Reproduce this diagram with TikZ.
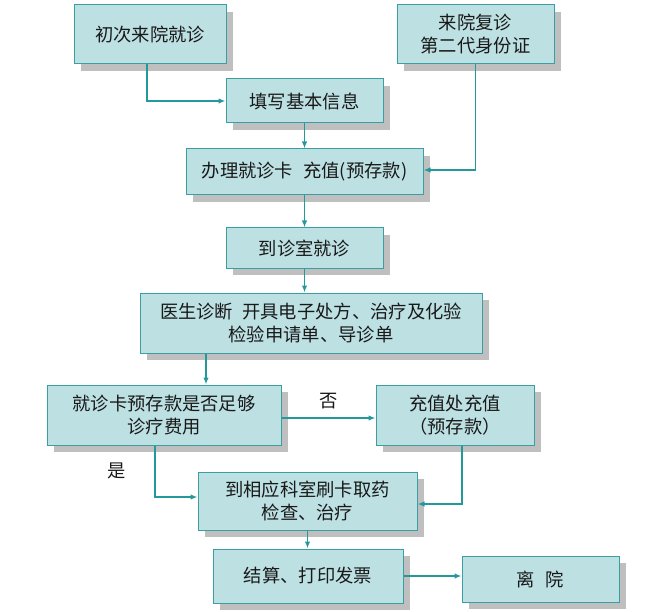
\documentclass[tikz,border=0pt]{standalone}
\usepackage{fontspec}
\setmainfont{Noto Sans CJK SC}
\usepackage{tikz}
\usetikzlibrary{arrows.meta,shadows}

\definecolor{boxfill}{HTML}{BDE0E3}
\definecolor{boxline}{HTML}{3A9EA2}
\definecolor{arrline}{HTML}{24999B}

\tikzset{
  box/.style={draw=boxline, line width=1pt, fill=boxfill, align=center,
    inner sep=0pt, text=black!90,
    font=\fontsize{18.3}{23}\selectfont,
    drop shadow={shadow xshift=7pt, shadow yshift=-7pt, fill=black!25, opacity=1}},
  arr/.style={draw=arrline, line width=1.8pt, -{Latex[length=7pt,width=5.5pt]}},
  lbl/.style={font=\fontsize{18.3}{23}\selectfont, text=black!90}
}

\begin{document}
\begin{tikzpicture}[x=1pt,y=-1pt]
    \useasboundingbox (0,0) rectangle (655,612);

    \node[box, minimum width=152pt, minimum height=59pt] (B1) at (150, 34.5) {初次来院就诊};
    \node[box, minimum width=157pt, minimum height=59pt] (B2) at (475.5, 34.5) {来院复诊\\第二代身份证};
    \node[box, minimum width=157pt, minimum height=44pt] (B3) at (304.5, 101) {填写基本信息};
    \node[box, minimum width=237pt, minimum height=46pt] (B4) at (304.5, 172) {办理就诊卡\hspace{0.55em}充值(预存款)};
    \node[box, minimum width=157pt, minimum height=40pt] (B5) at (304.5, 248) {到诊室就诊};
    \node[box, minimum width=342pt, minimum height=60pt] (B6) at (311, 323) {医生诊断\hspace{0.5em}开具电子处方、治疗及化验\\检验申请单、导诊单};
    \node[box, minimum width=234pt, minimum height=60pt] (B7) at (164, 415) {就诊卡预存款是否足够\\诊疗费用};
    \node[box, minimum width=158pt, minimum height=60pt] (B8) at (455, 415) {充值处充值\\（预存款）};
    \node[box, minimum width=219pt, minimum height=58pt] (B9) at (307.5, 501) {到相应科室刷卡取药\\检查、治疗};
    \node[box, minimum width=190pt, minimum height=54pt] (B10) at (308, 576) {结算、打印发票};
    \node[box, minimum width=157pt, minimum height=46pt] (B11) at (540.5, 579) {离\hspace{0.6em}院};

    \draw[arr] ([xshift=-3pt]B1.south) |- (B3.west);
    \draw[arr] (B2.south) |- ([yshift=2pt]B4.east);
    \draw[arr] (B3.south) -- (B4.north);
    \draw[arr] (B4.south) -- (B5.north);
    \draw[arr] (B5.south) -- (B5.south |- B6.north);
    \draw[arr] ([xshift=42pt]B7.north |- B6.south) -- ([xshift=42pt]B7.north);
    \draw[arr] ([yshift=-3pt]B7.east) -- node[lbl, above=5pt] {否} ([yshift=-3pt]B8.west);
    \draw[arr] ([xshift=-9pt]B7.south) |- node[lbl, pos=0.25, left=25pt] {是} ([yshift=4pt]B9.west);
    \draw[arr] ([xshift=7pt]B8.south) |- ([yshift=-3pt]B9.east);
    \draw[arr] (B9.south) -- (B9.south |- B10.north);
    \draw[arr] (B10.east) -- (B10.east -| B11.west);
  \end{tikzpicture}
\end{document}
